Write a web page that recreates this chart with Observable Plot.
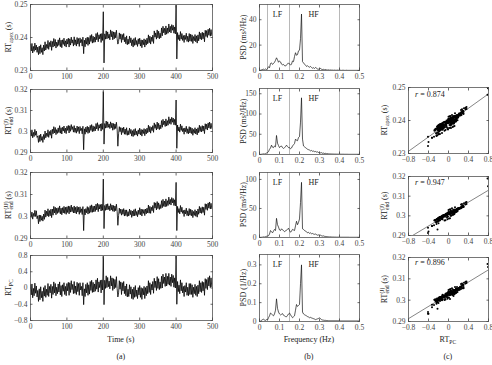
<!DOCTYPE html>
<html>
<head>
<meta charset="utf-8">
<script src="https://cdn.jsdelivr.net/npm/d3@7"></script>
<script src="https://cdn.jsdelivr.net/npm/@observablehq/plot@0.6"></script>
<style>
  body { margin: 0; background: #fff; }
  #fig { position: relative; width: 492px; height: 365px; background: #fff; overflow: hidden; }
  #fig svg { position: absolute; overflow: visible; }
</style>
</head>
<body>
<div id="fig"></div>
<script>
// ---- beat-to-beat series, one sample every 2 s ----
const sampleStep = 2; // s
const rtPC = [
  0.08,-0.17,0.10,-0.24,-0.01,-0.19,0.12,-0.13,0.05,-0.22,
  -0.06,-0.33,-0.02,-0.29,0.03,-0.24,-0.08,-0.33,0.01,-0.20,
  0.06,-0.23,-0.03,-0.18,0.11,-0.21,0.04,-0.12,0.09,-0.25,
  0.04,-0.16,0.15,-0.12,0.11,-0.19,0.02,-0.14,0.10,-0.10,
  0.15,-0.17,0.06,-0.21,0.08,-0.08,0.13,-0.16,0.04,-0.19,
  0.11,-0.07,0.14,-0.18,0.13,-0.11,0.18,-0.04,0.09,-0.14,
  0.16,-0.13,0.05,-0.16,0.14,-0.09,0.11,-0.18,0.13,-0.05,
  0.04,-0.19,0.13,-0.41,-0.02,-0.21,0.09,-0.12,0.13,-0.18,
  0.08,-0.15,0.16,-0.06,0.19,-0.11,0.14,-0.10,0.10,-0.08,
  0.20,-0.03,0.24,-0.10,0.15,0.01,0.19,-0.12,0.20,-0.05,
  0.78,-0.41,0.19,-0.01,0.30,0.01,0.26,0.03,0.17,-0.02,
  0.30,0.05,0.25,-0.06,0.23,-0.02,0.21,0.01,0.28,-0.01,
  -0.22,-0.12,0.18,-0.03,0.15,-0.16,0.13,-0.07,0.16,-0.14,
  0.05,-0.19,0.10,-0.22,-0.03,-0.21,0.08,-0.15,0.03,-0.26,
  -0.03,-0.28,0.02,-0.23,0.06,-0.21,-0.05,-0.26,0.01,-0.17,
  0.06,-0.23,0.01,-0.28,-0.01,-0.17,0.04,-0.26,0.01,-0.19,
  0.05,-0.14,0.18,-0.11,0.13,-0.16,0.09,-0.05,0.16,-0.13,
  0.24,0.01,0.17,-0.06,0.28,-0.01,0.23,-0.04,0.15,-0.01,
  0.29,0.00,0.34,0.11,0.27,0.04,0.36,0.05,0.29,0.09,
  0.36,0.07,0.27,0.04,0.34,0.13,0.31,0.02,0.25,0.00,
  0.79,-0.40,0.16,-0.09,0.07,-0.14,0.20,-0.07,0.13,-0.12,
  0.04,-0.21,0.06,-0.10,0.13,-0.18,0.02,-0.19,0.11,-0.16,
  0.11,-0.16,0.08,-0.23,0.02,-0.14,0.09,-0.18,0.04,-0.21,
  0.07,-0.14,0.18,-0.09,0.13,-0.11,0.16,-0.07,0.14,-0.18,
  0.23,-0.01,0.21,-0.04,0.26,0.05,0.30,0.01,0.25,0.03
];
const rtApexMs = [
  238.0,235.9,238.2,235.3,237.3,235.8,238.3,236.2,237.7,235.5,
  237.1,234.8,237.4,235.1,237.8,235.5,236.9,234.8,237.7,235.9,
  238.7,236.2,237.9,236.7,239.1,236.4,238.5,237.2,239.0,236.1,
  238.8,237.1,239.7,237.4,239.4,236.8,238.6,237.3,239.3,237.6,
  239.9,237.2,239.2,236.9,239.3,237.9,239.8,237.4,239.0,237.1,
  239.5,238.0,239.8,237.1,239.6,237.7,240.1,238.3,239.3,237.4,
  240.2,237.8,239.3,237.4,240.0,238.0,239.7,237.3,239.9,238.4,
  239.4,237.4,240.1,235.1,239.2,237.2,239.8,238.0,240.1,237.6,
  240.0,238.0,240.6,238.8,240.9,238.3,240.4,238.5,240.1,238.6,
  241.2,239.3,241.5,238.7,240.8,239.6,241.1,238.5,241.2,239.1,
  247.8,232.3,241.1,239.5,242.0,239.6,241.7,239.8,241.0,239.3,
  242.3,240.2,241.9,239.3,241.7,239.6,241.6,239.9,242.2,239.7,
  238.0,238.8,241.4,239.5,241.1,238.5,240.9,239.3,241.2,238.7,
  240.1,238.1,240.5,237.8,239.5,238.0,240.4,238.4,239.9,237.5,
  239.3,237.1,239.7,237.6,240.0,237.8,239.1,237.3,239.6,238.0,
  239.8,237.4,239.3,236.9,239.2,237.8,239.6,237.1,239.3,237.7,
  239.8,238.1,240.8,238.4,240.4,238.0,240.1,238.8,240.7,238.2,
  242.0,240.1,241.4,239.5,242.3,239.9,241.9,239.6,241.3,239.9,
  242.9,240.5,243.4,241.4,242.8,240.8,243.5,241.0,242.9,241.3,
  244.1,241.7,243.4,241.4,243.9,242.2,243.7,241.3,243.2,241.1,
  249.8,233.5,241.5,239.4,240.8,239.0,241.8,239.5,241.2,239.1,
  240.6,238.5,240.7,239.4,241.3,238.8,240.4,238.6,241.2,238.9,
  241.0,238.8,240.8,238.2,240.3,239.0,240.9,238.7,240.5,238.3,
  240.8,239.0,241.7,239.5,241.3,239.3,241.6,239.6,241.4,238.7,
  242.2,240.3,242.1,240.0,242.5,240.7,242.8,240.4,242.4,240.6
];
const rtEndJMs = [
  300.6,297.8,300.8,297.0,299.6,297.6,301.0,298.2,300.2,297.2,
  297.8,294.8,298.2,295.2,298.8,295.8,297.6,294.8,298.6,296.2,
  300.2,297.0,299.2,297.6,300.8,297.2,300.0,298.2,300.6,296.8,
  301.1,298.9,302.3,299.3,301.9,298.5,300.9,299.1,301.7,299.5,
  302.8,299.2,301.8,298.8,302.0,300.2,302.6,299.4,301.6,299.0,
  302.5,300.5,302.9,299.3,302.7,300.1,303.3,300.9,302.3,299.7,
  302.8,299.6,301.6,299.2,302.6,300.0,302.2,299.0,302.4,300.4,
  301.5,298.9,302.5,291.3,301.3,298.7,302.1,299.7,302.5,299.1,
  302.1,299.5,302.9,300.5,303.3,299.9,302.7,300.1,302.3,300.3,
  303.8,301.2,304.2,300.4,303.2,301.6,303.6,300.2,303.8,301.0,
  319.0,294.0,303.8,301.6,305.0,301.8,304.6,302.0,303.6,301.4,
  304.6,301.8,304.0,300.6,303.8,301.0,303.6,301.4,304.4,301.2,
  293.0,298.9,302.3,299.9,301.9,298.5,301.7,299.5,302.1,298.7,
  301.2,298.6,301.8,298.2,300.4,298.4,301.6,299.0,301.0,297.8,
  300.4,297.6,301.0,298.2,301.4,298.4,300.2,297.8,300.8,298.8,
  301.6,298.4,301.0,297.8,300.8,299.0,301.4,298.0,301.0,298.8,
  301.6,299.4,303.0,299.8,302.4,299.2,302.0,300.4,302.8,299.6,
  304.1,301.5,303.3,300.7,304.5,301.3,303.9,300.9,303.1,301.3,
  305.2,302.0,305.8,303.2,305.0,302.4,306.0,302.6,305.2,303.0,
  307.0,303.8,306.0,303.4,306.8,304.4,306.4,303.2,305.8,303.0,
  315.0,292.0,303.1,300.3,302.1,299.7,303.5,300.5,302.7,299.9,
  301.5,298.7,301.7,299.9,302.5,299.1,301.3,298.9,302.3,299.3,
  302.0,299.0,301.6,298.2,301.0,299.2,301.8,298.8,301.2,298.4,
  301.8,299.4,303.0,300.0,302.4,299.8,302.8,300.2,302.6,299.0,
  303.7,301.1,303.5,300.7,304.1,301.7,304.5,301.3,303.9,301.5
];
const rtEndJJMs = [
  302.4,299.6,302.0,298.8,301.4,300.0,302.8,300.0,302.6,299.0,
  300.3,296.7,300.7,297.7,300.6,298.3,300.1,297.9,301.1,298.7,
  302.9,299.7,302.4,300.3,303.5,299.9,302.7,300.3,303.3,299.5,
  303.4,300.6,304.6,301.6,304.2,300.8,303.8,301.4,304.0,301.8,
  304.8,301.2,303.8,300.8,304.0,301.6,304.6,301.4,304.2,301.0,
  304.4,301.8,304.8,301.2,304.6,302.0,305.2,302.2,304.2,301.6,
  304.8,301.6,304.2,301.2,304.6,302.0,304.2,301.0,304.4,301.8,
  303.5,300.9,304.5,293.6,303.3,300.7,303.6,301.7,304.5,301.1,
  304.1,301.5,304.9,301.9,305.3,301.9,304.7,302.1,304.8,302.3,
  305.6,303.0,306.0,302.2,305.5,303.4,305.4,302.5,305.6,302.8,
  317.0,294.5,305.0,302.8,305.6,303.0,305.8,303.2,304.8,302.6,
  305.8,303.0,305.2,302.4,305.0,302.2,304.8,302.6,305.6,302.4,
  296.0,300.4,303.8,301.4,303.4,300.6,303.2,301.0,303.6,300.2,
  303.0,300.4,303.0,300.0,302.2,300.2,303.4,300.8,302.8,299.6,
  302.5,300.2,303.1,300.3,303.5,300.5,302.3,299.9,302.9,300.9,
  304.0,300.8,303.4,300.2,303.2,301.4,303.2,300.4,303.4,301.2,
  303.8,301.6,305.2,301.5,304.6,301.4,304.2,302.6,305.0,301.8,
  306.4,303.8,306.2,303.0,306.8,303.6,306.2,303.2,305.4,303.6,
  307.2,304.0,307.8,304.6,307.0,304.4,308.0,304.6,307.2,305.0,
  308.8,305.6,307.8,305.2,308.6,306.2,308.2,305.0,307.6,304.8,
  315.5,293.6,304.6,301.8,303.6,301.2,305.0,302.0,304.2,301.4,
  302.8,300.0,303.0,301.2,303.8,300.4,302.6,300.2,303.6,300.6,
  303.3,300.3,302.9,299.5,302.3,300.5,303.1,300.1,302.5,299.7,
  303.4,301.0,304.6,301.6,304.0,301.4,304.4,301.8,304.2,300.6,
  305.8,303.2,305.6,302.8,306.2,303.8,306.6,303.4,306.0,303.6
];

// ---- power spectral densities, 0 to 0.5 Hz in 0.005 Hz bins ----
const freqStep = 0.005; // Hz
const psdApex = [
  0,0.2,0.5,0.8,1.0,0.6,1.2,0.8,1.5,3.0,
  2.2,5.5,6.0,4.8,5.5,6.5,8.0,10.0,8.5,6.5,
  7.5,6.8,5.0,4.5,4.8,3.8,3.5,4.5,5.0,6.0,
  5.2,4.2,5.0,7.5,7.0,11.0,14.0,12.0,12.5,15.5,
  16.0,25.0,44.5,7.0,6.0,5.0,4.2,3.2,3.8,3.0,
  2.6,3.2,2.4,1.8,2.2,1.6,2.4,1.8,1.2,1.0,
  1.4,1.6,1.0,0.8,0.9,0.6,0.8,0.5,0.4,0.5,
  0.3,0.4,0.3,0.3,0.2,0.3,0.2,0.2,0.3,0.2,
  0.2,0.2,0.1,0.2,0.2,0.1,0.1,0.2,0.1,0.1,
  0.1,0.1,0.1,0.1,0.1,0.1,0.1,0.1,0.1,0.1,
  0.1
];
const psdEndJ = [
  0,0.3,0.6,1.0,1.5,1.2,2.0,3.5,5.0,7.0,
  13,16,23,18,17,21,19,47,28,22,
  17,20,21,17,15,17,19,23,20,17,
  17,14,16,21,24,27,38,35,34,42,
  44,80,140,38,21,19,17,15,13,12,
  11,9,10,8,8.5,7,7.5,6,6.5,5,
  5.5,4,4.5,3,3.5,2.5,2.8,2,2.2,1.6,
  1.5,1.4,1.3,1.2,1.1,1.0,1.0,0.9,0.9,0.8,
  0.8,0.8,0.7,0.7,0.7,0.6,0.6,0.6,0.6,0.5,
  0.5,0.5,0.5,0.5,0.5,0.5,0.5,0.5,0.5,0.5,
  0.5
];
const psdEndJJ = [
  0,0.2,0.4,0.6,1.0,0.8,1.4,2.0,2.5,3.0,
  6,12,10,8,11,14,12,33,22,18,
  13,12,15,13,12,10,11,13,14,16,
  12,9,11,14,13,12,20,28,22,26,
  32,60,95,15,14,12,11,10,8,9,
  7,8,6.5,7,6,5.5,6,5,4,4.5,
  3.5,4,3,2.5,2.8,2,1.8,1.6,1.4,1.2,
  1.0,1.1,0.9,0.8,0.8,0.7,0.7,0.6,0.6,0.6,
  0.5,0.5,0.5,0.5,0.5,0.5,0.5,0.5,0.5,0.5,
  0.4,0.4,0.4,0.4,0.4,0.4,0.4,0.4,0.4,0.4,
  0.4
];
const psdPC = [
  0,0.002,0.006,0.010,0.012,0.008,0.006,0.010,0.008,0.020,
  0.030,0.045,0.040,0.035,0.030,0.040,0.060,0.120,0.070,0.050,
  0.040,0.035,0.038,0.042,0.033,0.030,0.026,0.025,0.032,0.040,
  0.045,0.035,0.028,0.020,0.025,0.030,0.060,0.090,0.080,0.085,
  0.090,0.200,0.300,0.050,0.040,0.036,0.033,0.030,0.026,0.024,
  0.020,0.022,0.019,0.017,0.015,0.013,0.010,0.012,0.014,0.016,
  0.020,0.014,0.010,0.008,0.007,0.006,0.006,0.005,0.005,0.004,
  0.004,0.004,0.004,0.004,0.004,0.004,0.004,0.004,0.004,0.004,
  0.003,0.003,0.003,0.003,0.003,0.003,0.003,0.003,0.003,0.003,
  0.003,0.003,0.003,0.003,0.003,0.003,0.003,0.003,0.003,0.003,
  0.003
];

// frequency band limits (Hz) and their names
const bandEdges = [0.04, 0.15, 0.4];
const bandNames = ["LF", "HF"];
const bandCenters = [0.09, 0.27];

// correlation coefficients against RT_PC
const rValues = [0.874, 0.947, 0.896];

// axis ranges and ticks
const timeDomain = [0, 500];
const timeTicks = [0, 100, 200, 300, 400, 500];
const freqDomain = [0, 0.5];
const freqTicks = [0, 0.1, 0.2, 0.3, 0.4, 0.5];
const pcDomain = [-0.8, 0.8];
const pcTicks = [-0.8, -0.4, 0, 0.4, 0.8];
const apexDomain = [0.23, 0.25];
const apexTicks = [0.23, 0.24, 0.25];
const endDomain = [0.29, 0.32];
const endTicks = [0.29, 0.3, 0.31, 0.32];
const psdDomains = [[0, 52], [0, 163], [0, 112], [0, 0.355]];
const psdTicks = [[0, 20, 40], [0, 50, 100, 150], [0, 50, 100], [0, 0.1, 0.2, 0.3]];

// ---- derived tables ----
const time = rtPC.map((_, i) => i * sampleStep);
const rtApex = rtApexMs.map(v => v / 1000);
const rtEndJ = rtEndJMs.map(v => v / 1000);
const rtEndJJ = rtEndJJMs.map(v => v / 1000);
const freq = psdApex.map((_, j) => j * freqStep);

const FONT = '"Liberation Serif", "Times New Roman", serif';
const INK = "#222";
const fmt = d => String(d).replace("-", "\u2212");
const fig = document.getElementById("fig");

function boxAxes(xTicks, yTicks) {
  const common = {tickSize: -2.5, label: null, color: "#444", strokeWidth: 0.8};
  return [
    Plot.axisX(xTicks, {...common, anchor: "bottom", tickPadding: 5.5, tickFormat: fmt}),
    Plot.axisX(xTicks, {...common, anchor: "top", tickFormat: () => ""}),
    Plot.axisY(yTicks, {...common, anchor: "left", tickPadding: 5.5, tickFormat: fmt}),
    Plot.axisY(yTicks, {...common, anchor: "right", tickFormat: () => ""})
  ];
}

function panel({left, top, width, height, mt, mb, ml, mr, xDomain, yDomain, xTicks, yTicks, marks}) {
  const svg = Plot.plot({
    width, height,
    marginTop: mt, marginBottom: mb, marginLeft: ml, marginRight: mr,
    x: {domain: xDomain, label: null},
    y: {domain: yDomain, label: null},
    style: {fontFamily: FONT, fontSize: "7.5px", color: INK, background: "none", overflow: "visible"},
    marks: [...marks, Plot.frame({stroke: "#555", strokeWidth: 0.8}), ...boxAxes(xTicks, yTicks)]
  });
  svg.style.position = "absolute";
  svg.style.left = left + "px";
  svg.style.top = top + "px";
  fig.appendChild(svg);
  return svg;
}

// ---- column (a): time series ----
const timeSeries = [
  {values: rtApex, yDomain: apexDomain, yTicks: apexTicks, top: 0, height: 82, mt: 4},
  {values: rtEndJ, yDomain: endDomain, yTicks: endTicks, top: 80, height: 84, mt: 9},
  {values: rtEndJJ, yDomain: endDomain, yTicks: endTicks, top: 164, height: 86, mt: 8},
  {values: rtPC, yDomain: pcDomain, yTicks: pcTicks, top: 246, height: 86, mt: 9}
];
for (const s of timeSeries) {
  const rows = s.values.map((v, i) => ({t: time[i], v}));
  panel({
    left: 0, top: s.top, width: 220, height: s.height, mt: s.mt, mb: 12, ml: 30, mr: 8,
    xDomain: timeDomain, yDomain: s.yDomain, xTicks: timeTicks, yTicks: s.yTicks,
    marks: [Plot.line(rows, {x: "t", y: "v", stroke: "#000", strokeWidth: 0.8, clip: true})]
  });
}

// ---- column (b): spectra ----
const spectra = [
  {values: psdApex, top: 0, height: 82, mt: 4},
  {values: psdEndJ, top: 80, height: 86, mt: 8},
  {values: psdEndJJ, top: 164, height: 85, mt: 8},
  {values: psdPC, top: 246, height: 87, mt: 8}
];
spectra.forEach((s, k) => {
  const rows = s.values.map((p, j) => ({f: freq[j], p}));
  panel({
    left: 228, top: s.top, width: 136, height: s.height, mt: s.mt, mb: 12, ml: 31, mr: 5,
    xDomain: freqDomain, yDomain: psdDomains[k], xTicks: freqTicks, yTicks: psdTicks[k],
    marks: [
      Plot.ruleX(bandEdges, {stroke: "#999", strokeWidth: 0.7}),
      Plot.line(rows, {x: "f", y: "p", stroke: "#111", strokeWidth: 0.7, clip: true}),
      Plot.text(bandNames, {x: (_, i) => bandCenters[i], text: d => d, frameAnchor: "top", dy: 7, fontSize: 8, fill: INK})
    ]
  });
});

// ---- column (c): scatter against RT_PC ----
function leastSquares(xs, ys) {
  const mx = d3.mean(xs), my = d3.mean(ys);
  const sxy = d3.sum(xs, (x, i) => (x - mx) * (ys[i] - my));
  const sxx = d3.sum(xs, x => (x - mx) ** 2);
  const b = sxy / sxx;
  return {a: my - b * mx, b};
}
const scatters = [
  {values: rtApex, yDomain: apexDomain, yTicks: apexTicks, top: 80, height: 85, mt: 7},
  {values: rtEndJ, yDomain: endDomain, yTicks: endTicks, top: 166, height: 81, mt: 10},
  {values: rtEndJJ, yDomain: endDomain, yTicks: endTicks, top: 248, height: 85, mt: 9}
];
for (const s of scatters) {
  const pts = s.values.map((v, i) => ({pc: rtPC[i], rt: v}));
  const {a, b} = leastSquares(rtPC, s.values);
  const fitLine = pcDomain.map(x => ({pc: x, rt: a + b * x}));
  panel({
    left: 370, top: s.top, width: 122, height: s.height, mt: s.mt, mb: 12, ml: 38, mr: 4,
    xDomain: pcDomain, yDomain: s.yDomain, xTicks: pcTicks, yTicks: s.yTicks,
    marks: [
      Plot.line(fitLine, {x: "pc", y: "rt", stroke: "#333", strokeWidth: 0.6, clip: true}),
      Plot.dot(pts, {x: "pc", y: "rt", r: 1, fill: "#000", clip: true})
    ]
  });
}

// ---- labels with sub/superscripts ----
const overlay = d3.select(fig).append("svg")
  .attr("width", 492).attr("height", 365)
  .style("left", "0px").style("top", "0px")
  .attr("font-family", FONT).attr("fill", INK);

function rich(x, y, parts, {rotate = 0, size = 8, anchor = "middle"} = {}) {
  const g = overlay.append("g").attr("transform", `translate(${x},${y}) rotate(${rotate})`);
  const text = g.append("text").attr("font-size", size);
  const small = size * 0.7;
  let back = 0, nextDx = 0;
  for (const p of parts) {
    if (typeof p === "string" || p.it) {
      const t = text.append("tspan").attr("dy", back).attr("dx", nextDx).text(p.it || p);
      if (p.it) t.attr("font-style", "italic");
      back = 0; nextDx = 0;
    } else {
      let sup = null;
      if (p.sup) {
        sup = text.append("tspan").attr("dy", back - size * 0.38).attr("font-size", small).text(p.sup);
        back = size * 0.38;
      }
      if (p.sub) {
        const wSup = sup ? sup.node().getComputedTextLength() : 0;
        const sub = text.append("tspan").attr("dx", -wSup).attr("dy", back + size * 0.3).attr("font-size", small).text(p.sub);
        back = -size * 0.3;
        if (sup) nextDx = Math.max(0, wSup - sub.node().getComputedTextLength());
      }
    }
  }
  const w = text.node().getBBox().width;
  text.attr("x", anchor === "middle" ? -w / 2 : 0);
}

const rot = {rotate: -90};
rich(11, 37, ["RT", {sub: "apex"}, " (s)"], rot);
rich(11, 120.5, ["RT", {sup: "(J)", sub: "end"}, " (s)"], rot);
rich(11, 205, ["RT", {sup: "(JJ)", sub: "end"}, " (s)"], rot);
rich(11, 287.5, ["RT", {sub: "PC"}], rot);

rich(246, 37, ["PSD (ms\u00B2/Hz)"], rot);
rich(246, 121, ["PSD (ms\u00B2/Hz)"], rot);
rich(246, 204.5, ["PSD (ms\u00B2/Hz)"], rot);
rich(246, 287.5, ["PSD (1/Hz)"], rot);

rich(387, 120, ["RT", {sub: "apex"}, " (s)"], rot);
rich(387, 205.5, ["RT", {sup: "(J)", sub: "end"}, " (s)"], rot);
rich(387, 289, ["RT", {sup: "(J)", sub: "end"}, " (s)"], rot);

const rBaselines = [97, 185, 265];
rValues.forEach((r, i) => rich(415, rBaselines[i], [{it: "r"}, ` = ${r}`], {anchor: "start"}));

rich(121, 342, ["Time (s)"]);
rich(121, 359, ["(a)"]);
rich(309, 342, ["Frequency (Hz)"]);
rich(309, 359, ["(b)"]);
rich(448, 342, ["RT", {sub: "PC"}]);
rich(448, 359, ["(c)"]);
</script>
</body>
</html>
